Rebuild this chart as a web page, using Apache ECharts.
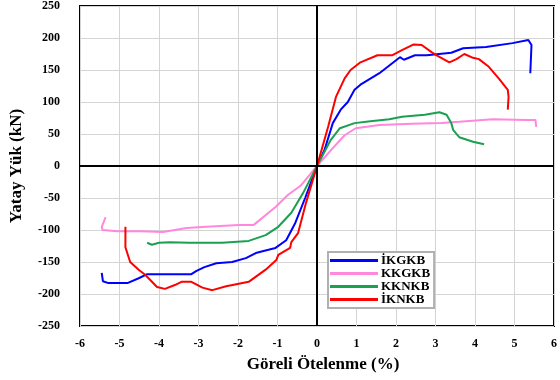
<!DOCTYPE html>
<html>
<head>
<meta charset="utf-8">
<script src="https://cdn.jsdelivr.net/npm/echarts@6/dist/echarts.min.js"></script>
<style>
  html, body { margin: 0; padding: 0; background: #fff; }
  #chart { width: 560px; height: 380px; }
</style>
</head>
<body>
<div id="chart"></div>
<script>
// envelope curves, [drift %, load kN]
var ikgkb = [[-5.45,-167],[-5.42,-180],[-5.28,-183],[-4.8,-183],[-4.5,-175],[-4.3,-169],[-3.18,-169],
    [-3.05,-164],[-2.85,-158],[-2.55,-152],[-2.15,-150],[-1.8,-144],[-1.55,-136],[-1.23,-131],
    [-1.05,-128],[-0.78,-116],[-0.55,-89],[-0.3,-50],[0,0],[0.19,25],[0.4,67],[0.6,88],[0.78,100],
    [0.95,119],[1.1,127],[1.58,145],[2.1,170],[2.2,166],[2.48,173],[2.78,173],[3.4,177],[3.7,184],
    [4.28,186],[4.95,192],[5.35,197],[5.43,189],[5.4,145]];
var kkgkb = [[-5.35,-80],[-5.45,-95],[-5.43,-100],[-5.05,-102],[-4.48,-102],[-3.9,-103],[-3.3,-97],
    [-2.8,-95],[-1.98,-92],[-1.6,-92],[-1.05,-64],[-0.73,-45],[-0.4,-30],[0,0],[0.4,28],[0.7,48],
    [0.98,59],[1.58,64],[2.4,66],[3.15,67],[3.6,69],[4.45,73],[5.28,72],[5.53,72],[5.55,61]];
var kknkb = [[-4.3,-120],[-4.18,-123],[-4.0,-120],[-3.73,-119],[-3.23,-120],[-2.4,-120],[-1.73,-117],
    [-1.3,-108],[-0.98,-95],[-0.65,-73],[-0.35,-42],[0,0],[0.35,41],[0.58,59],[0.95,67],[1.35,70],
    [1.83,73],[2.15,77],[2.73,80],[3.1,84],[3.28,80],[3.4,67],[3.45,56],[3.6,45],[3.95,38],[4.23,34]];
var iknkb = [[-4.85,-95],[-4.85,-127],[-4.73,-150],[-4.5,-163],[-4.35,-170],[-4.05,-189],[-3.85,-192],
    [-3.6,-186],[-3.43,-181],[-3.18,-181],[-2.9,-190],[-2.65,-194],[-2.3,-188],[-1.98,-184],
    [-1.73,-181],[-1.3,-162],[-1.03,-147],[-0.98,-139],[-0.68,-128],[-0.65,-119],[-0.48,-105],
    [-0.28,-58],[0,0],[0.28,61],[0.48,108],[0.7,137],[0.85,150],[1.1,162],[1.53,173],[1.9,173],
    [2.15,181],[2.45,190],[2.65,189],[2.9,178],[3.03,173],[3.35,162],[3.53,167],[3.73,175],
    [3.95,169],[4.1,167],[4.35,155],[4.6,137],[4.83,119],[4.85,108],[4.83,88]];

var names = ['İKGKB', 'KKGKB', 'KKNKB', 'İKNKB'];
var colors = ['#0000ff', '#ff88dd', '#1aa050', '#ff0000'];
var curves = [ikgkb, kkgkb, kknkb, iknkb];

var font = 'Liberation Serif';
var chart = echarts.init(document.getElementById('chart'));

var series = [];
for (var i = 0; i < curves.length; i++) {
    series.push({
        name: names[i],
        type: 'line',
        data: curves[i],
        showSymbol: false,
        symbol: 'none',
        color: colors[i],
        lineStyle: { width: 2, color: colors[i] },
        z: 3
    });
}
// thick zero lines
series.push({
    type: 'line',
    data: [],
    silent: true,
    markLine: {
        silent: true,
        symbol: 'none',
        label: { show: false },
        lineStyle: { color: '#000', width: 2, type: 'solid' },
        data: [{ xAxis: 0 }, { yAxis: 0 }]
    },
    z: 2
});

chart.setOption({
    animation: false,
    backgroundColor: '#fff',
    grid: {
        left: 78, top: 6, right: 2, bottom: 54,
        show: true, borderColor: '#000', borderWidth: 2
    },
    legend: {
        data: names,
        orient: 'vertical',
        left: 328, top: 252,
        padding: [2, 4, 2, 2],
        icon: 'rect',
        itemWidth: 48, itemHeight: 3, itemGap: 0,
        backgroundColor: '#fff',
        borderColor: '#b0b0b0', borderWidth: 2, borderRadius: 0,
        textStyle: { fontFamily: font, fontWeight: 'bold', fontSize: 13, lineHeight: 11, color: '#000', padding: [0, 0, 0, -2] }
    },
    xAxis: {
        type: 'value',
        min: -6, max: 6, interval: 1,
        name: 'Göreli Ötelenme (%)',
        nameLocation: 'middle',
        nameGap: 30,
        nameTextStyle: { fontFamily: font, fontWeight: 'bold', fontSize: 17, color: '#000', padding: [0, 0, 0, 12] },
        axisLine: { show: false },
        axisTick: { show: false },
        axisLabel: { fontFamily: font, fontWeight: 'bold', fontSize: 12, color: '#000', margin: 12 },
        splitLine: { lineStyle: { color: '#d4d4d4', width: 1 } }
    },
    yAxis: {
        type: 'value',
        min: -250, max: 250, interval: 50,
        name: 'Yatay Yük (kN)',
        nameLocation: 'middle',
        nameGap: 55,
        nameTextStyle: { fontFamily: font, fontWeight: 'bold', fontSize: 17, color: '#000' },
        axisLine: { show: false },
        axisTick: { show: false },
        axisLabel: { fontFamily: font, fontWeight: 'bold', fontSize: 12, color: '#000', margin: 20 },
        splitLine: { lineStyle: { color: '#d4d4d4', width: 1 } }
    },
    series: series
});
</script>
</body>
</html>
